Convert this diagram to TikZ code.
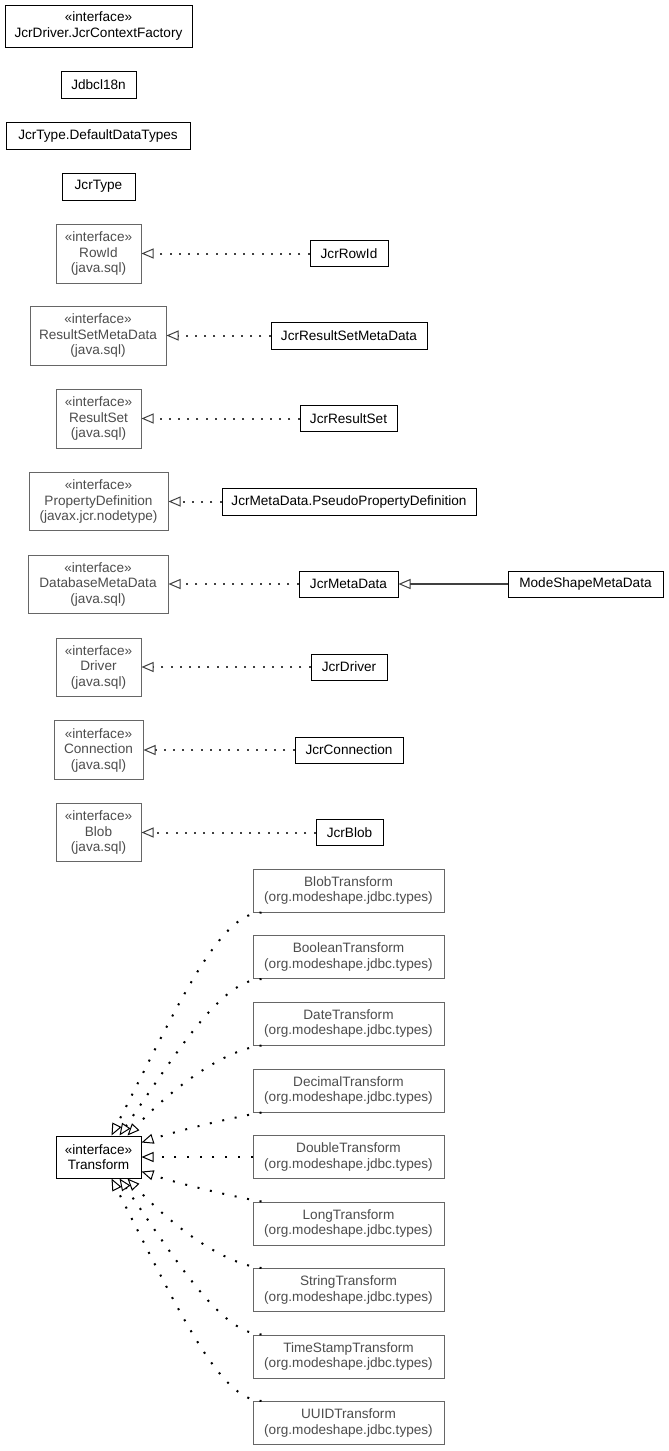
\documentclass[tikz,border=0pt]{standalone}
\usepackage{fontspec}
\setmainfont{Liberation Sans}
\usetikzlibrary{arrows.meta}
\definecolor{gline}{HTML}{404040}
\definecolor{gtext}{HTML}{4D4D4D}
\definecolor{gborder}{HTML}{666666}
\begin{document}
\begin{tikzpicture}[x=1pt,y=-1pt,
  base/.style={line width=1pt, font=\fontsize{13.6}{15.5}\selectfont, align=center, inner sep=0pt},
  cls/.style={base, draw=black, text=black},
  ifc/.style={base, draw=gborder, text=gtext},
  impl/.style={draw=gline, line width=2pt, dash pattern=on 2pt off 7.2pt, -{Triangle[open, length=12pt, width=10pt, line width=1pt]}},
  tdep/.style={draw=black, line width=2pt, dash pattern=on 2pt off 10.7pt, -{Triangle[open, length=12pt, width=10pt, line width=1pt]}},
  gen/.style={draw=gline, line width=1.4pt, -{Triangle[open, length=12pt, width=10pt, line width=1pt]}}
]
\fill[white] (0,0) rectangle (669,1451);
\useasboundingbox (0,0) rectangle (669,1451);

% top standalone classes
\node[cls, minimum width=187pt, minimum height=42pt] (ctx) at (98.5,26) {«interface»\\JcrDriver.JcrContextFactory};
\node[cls, minimum width=75pt, minimum height=27pt] (jdbc) at (98.5,84.5) {Jdbcl18n};
\node[cls, minimum width=184pt, minimum height=27pt] (ddt) at (98,135.5) {JcrType.DefaultDataTypes};
\node[cls, minimum width=73pt, minimum height=27pt] (jtype) at (98.5,186.5) {JcrType};

% interfaces and implementations
\node[ifc, minimum width=85pt, minimum height=59pt] (rowid) at (98.5,253.5) {«interface»\\RowId\\(java.sql)};
\node[cls, minimum width=78pt, minimum height=26pt] (jrowid) at (349,253.5) {JcrRowId};

\node[ifc, minimum width=136pt, minimum height=59pt] (rsmd) at (98,335.5) {«interface»\\ResultSetMetaData\\(java.sql)};
\node[cls, minimum width=156pt, minimum height=27pt] (jrsmd) at (349,335.5) {JcrResultSetMetaData};

\node[ifc, minimum width=85pt, minimum height=59pt] (rs) at (98.5,418.5) {«interface»\\ResultSet\\(java.sql)};
\node[cls, minimum width=97pt, minimum height=26pt] (jrs) at (348.5,418.5) {JcrResultSet};

\node[ifc, minimum width=139pt, minimum height=58pt] (pd) at (98.5,501.5) {«interface»\\PropertyDefinition\\(javax.jcr.nodetype)};
\node[cls, minimum width=254pt, minimum height=27pt] (jpd) at (349,501.5) {JcrMetaData.PseudoPropertyDefinition};

\node[ifc, minimum width=140pt, minimum height=58pt] (dbmd) at (98,584) {«interface»\\DatabaseMetaData\\(java.sql)};
\node[cls, minimum width=99pt, minimum height=26pt] (jmd) at (348.5,584) {JcrMetaData};
\node[cls, minimum width=155pt, minimum height=26pt] (msmd) at (585.5,584) {ModeShapeMetaData};

\node[ifc, minimum width=85pt, minimum height=58pt] (drv) at (98.5,667) {«interface»\\Driver\\(java.sql)};
\node[cls, minimum width=76pt, minimum height=26pt] (jdrv) at (349,667) {JcrDriver};

\node[ifc, minimum width=89pt, minimum height=59pt] (conn) at (98.5,750) {«interface»\\Connection\\(java.sql)};
\node[cls, minimum width=108pt, minimum height=26pt] (jconn) at (349,750) {JcrConnection};

\node[ifc, minimum width=85pt, minimum height=58pt] (blob) at (98.5,832.5) {«interface»\\Blob\\(java.sql)};
\node[cls, minimum width=67pt, minimum height=26pt] (jblob) at (349.5,832.5) {JcrBlob};

\draw[impl] (jrowid.west) -- (rowid.east);
\draw[impl] (jrsmd.west) -- (rsmd.east);
\draw[impl] (jrs.west) -- (rs.east);
\draw[impl] (jpd.west) -- (pd.east);
\draw[impl] (jmd.west) -- (dbmd.east);
\draw[gen] (msmd.west) -- (jmd.east);
\draw[impl] (jdrv.west) -- (drv.east);
\draw[impl] (jconn.west) -- (conn.east);
\draw[impl] (jblob.west) -- (blob.east);

% Transform
\node[cls, minimum width=85pt, minimum height=42pt] (tr) at (98.5,1157) {«interface»\\Transform};
\node[ifc, minimum width=191pt, minimum height=43pt] (t1) at (348.5,890.5) {BlobTransform\\(org.modeshape.jdbc.types)};
\node[ifc, minimum width=191pt, minimum height=43pt] (t2) at (348.5,957) {BooleanTransform\\(org.modeshape.jdbc.types)};
\node[ifc, minimum width=191pt, minimum height=43pt] (t3) at (348.5,1023.5) {DateTransform\\(org.modeshape.jdbc.types)};
\node[ifc, minimum width=191pt, minimum height=43pt] (t4) at (348.5,1090.5) {DecimalTransform\\(org.modeshape.jdbc.types)};
\node[ifc, minimum width=191pt, minimum height=43pt] (t5) at (348.5,1157) {DoubleTransform\\(org.modeshape.jdbc.types)};
\node[ifc, minimum width=191pt, minimum height=43pt] (t6) at (348.5,1223.5) {LongTransform\\(org.modeshape.jdbc.types)};
\node[ifc, minimum width=191pt, minimum height=43pt] (t7) at (348.5,1290) {StringTransform\\(org.modeshape.jdbc.types)};
\node[ifc, minimum width=191pt, minimum height=43pt] (t8) at (348.5,1356.5) {TimeStampTransform\\(org.modeshape.jdbc.types)};
\node[ifc, minimum width=191pt, minimum height=43pt] (t9) at (348.5,1423) {UUIDTransform\\(org.modeshape.jdbc.types)};

\draw[tdep] ([xshift=9pt]t1.south west) .. controls (220,913) and (180,1000) .. ([xshift=56pt]tr.north west);
\draw[tdep] ([xshift=9pt]t2.south west) .. controls (222,980) and (181,1046) .. ([xshift=64pt]tr.north west);
\draw[tdep] ([xshift=9pt]t3.south west) .. controls (225,1050) and (175,1085) .. ([xshift=72pt]tr.north west);
\draw[tdep] ([xshift=9pt]t4.south west) .. controls (230,1118) and (180,1130) .. ([yshift=-7pt]tr.north east);
\draw[tdep] (t5.west) -- (tr.east);
\draw[tdep] ([xshift=9pt]t6.north west) .. controls (230,1196) and (180,1184) .. ([yshift=7pt]tr.south east);
\draw[tdep] ([xshift=9pt]t7.north west) .. controls (225,1264) and (175,1229) .. ([xshift=72pt]tr.south west);
\draw[tdep] ([xshift=9pt]t8.north west) .. controls (222,1333) and (181,1268) .. ([xshift=64pt]tr.south west);
\draw[tdep] ([xshift=9pt]t9.north west) .. controls (220,1400) and (180,1314) .. ([xshift=56pt]tr.south west);
\end{tikzpicture}
\end{document}
